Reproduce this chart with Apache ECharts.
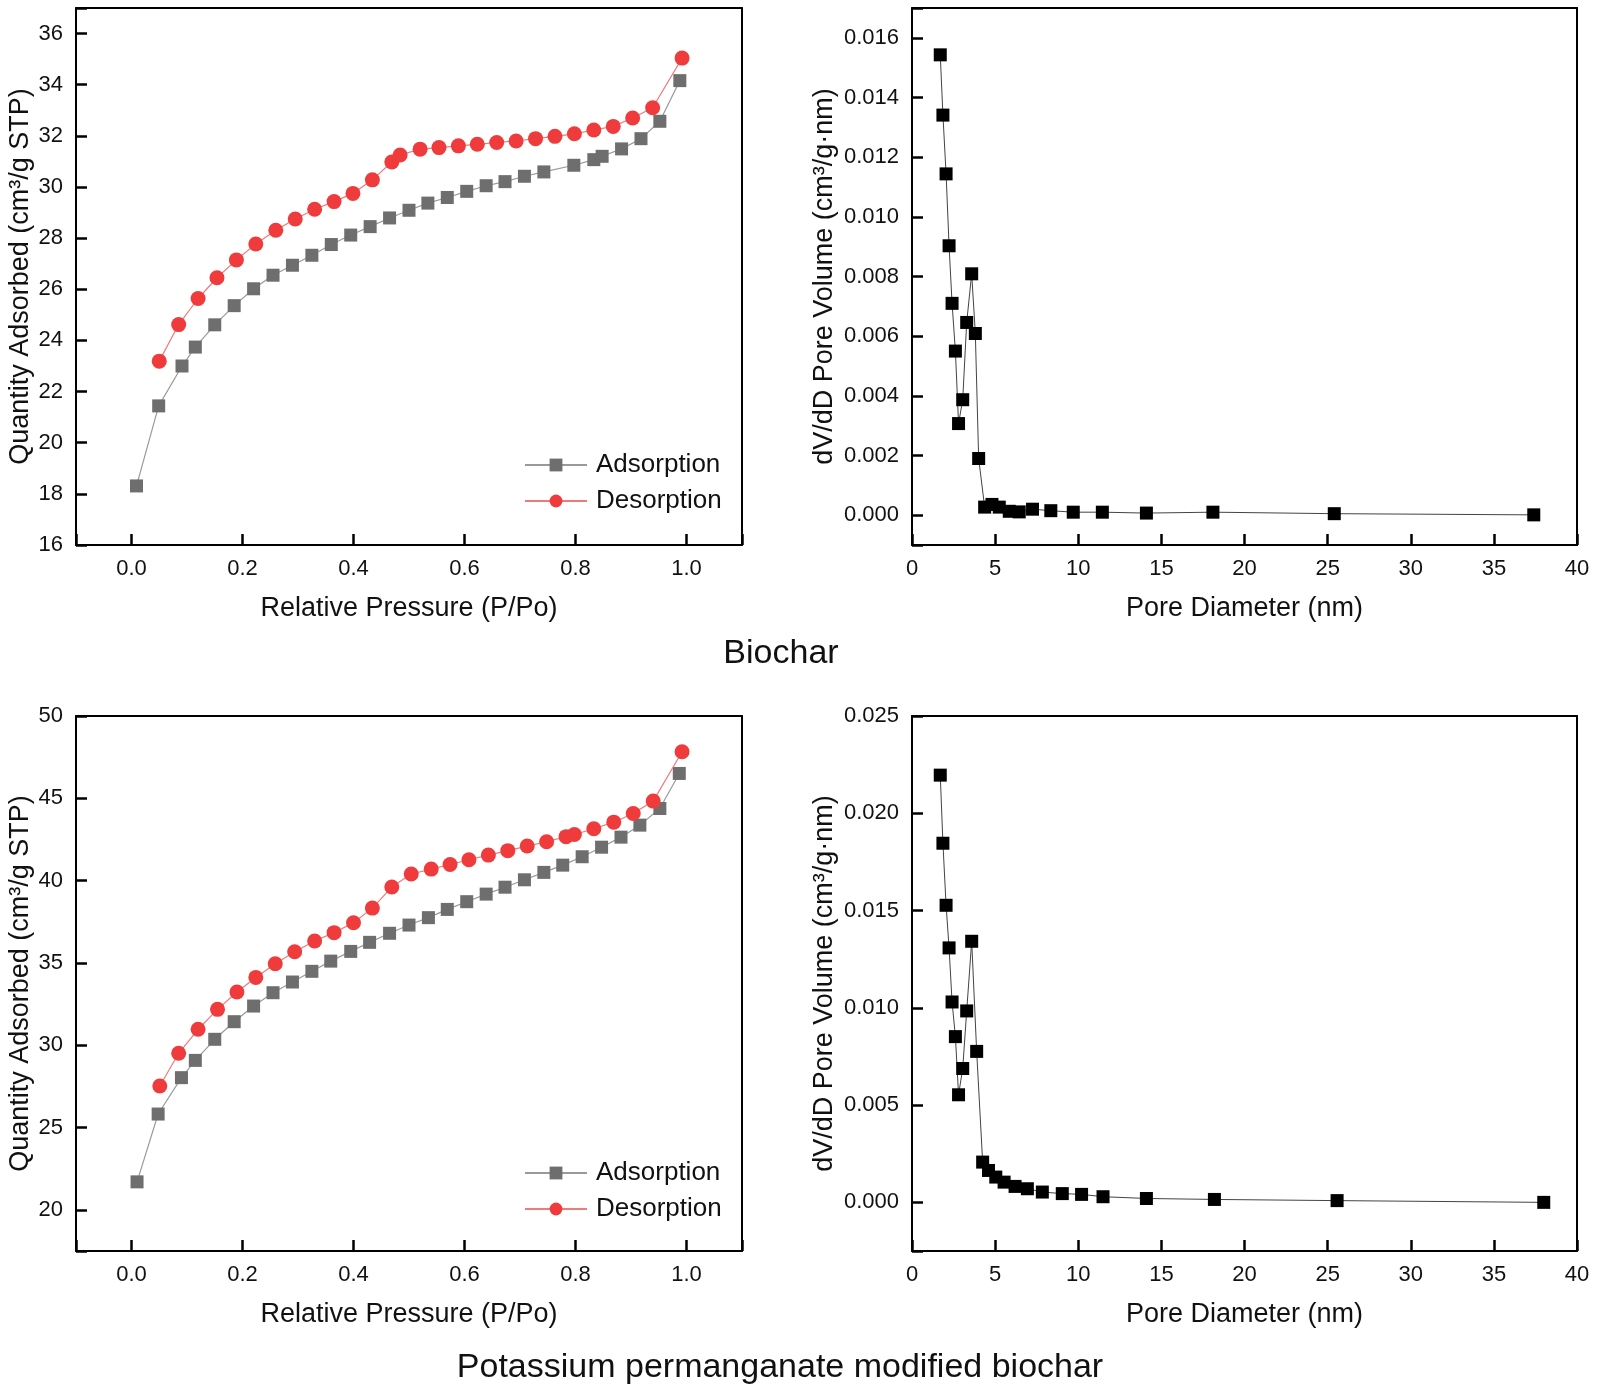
<!DOCTYPE html>
<html>
<head>
<meta charset="utf-8">
<title>Biochar BET</title>
<script src="https://cdn.jsdelivr.net/npm/echarts@6/dist/echarts.min.js"></script>
<style>
  html, body { margin: 0; padding: 0; background: #fff; }
  #charts { width: 1598px; height: 1397px; }
</style>
</head>
<body>
<div id="charts"></div>
<script>
// biochar isotherm (top left)
var bcAdsP = [0.009,0.049,0.091,0.115,0.15,0.185,0.22,0.255,0.29,0.325,0.36,0.395,0.43,0.465,0.5,0.534,0.569,0.604,0.639,0.673,0.708,0.743,0.797,0.833,0.848,0.883,0.918,0.952,0.988];
var bcAdsQ = [18.31,21.44,23.0,23.74,24.61,25.36,26.02,26.55,26.94,27.33,27.75,28.12,28.45,28.79,29.09,29.37,29.59,29.83,30.05,30.21,30.42,30.59,30.85,31.07,31.2,31.49,31.89,32.57,34.16];
var bcDesP = [0.05,0.085,0.12,0.154,0.189,0.224,0.26,0.295,0.33,0.365,0.399,0.434,0.469,0.484,0.52,0.554,0.589,0.623,0.658,0.693,0.728,0.763,0.798,0.833,0.868,0.903,0.939,0.992];
var bcDesQ = [23.19,24.62,25.64,26.45,27.15,27.77,28.31,28.75,29.13,29.43,29.75,30.28,30.98,31.25,31.48,31.54,31.61,31.67,31.74,31.8,31.89,31.98,32.08,32.23,32.37,32.7,33.1,35.04];
// biochar pore size distribution (top right)
var bcPoreD = [1.70,1.86,2.05,2.23,2.41,2.61,2.80,3.05,3.29,3.59,3.81,4.01,4.37,4.81,5.25,5.85,6.45,7.25,8.35,9.7,11.45,14.1,18.1,25.4,37.4];
var bcPoreV = [0.01543,0.01341,0.01144,0.00903,0.0071,0.0055,0.00307,0.00387,0.00646,0.00809,0.00609,0.0019,0.00027,0.00036,0.00027,0.00013,0.00011,0.0002,0.00015,0.0001,0.0001,0.00007,0.0001,0.00005,0.00001];
// modified biochar isotherm (bottom left)
var kmAdsP = [0.01,0.048,0.09,0.115,0.15,0.185,0.22,0.255,0.29,0.325,0.359,0.395,0.429,0.465,0.5,0.535,0.569,0.604,0.639,0.673,0.708,0.743,0.777,0.812,0.847,0.882,0.916,0.952,0.987];
var kmAdsQ = [21.7,25.82,28.03,29.08,30.36,31.43,32.38,33.19,33.84,34.49,35.11,35.7,36.25,36.8,37.3,37.75,38.25,38.72,39.18,39.6,40.05,40.5,40.94,41.45,42.03,42.64,43.37,44.38,46.51];
var kmDesP = [0.051,0.085,0.12,0.155,0.19,0.224,0.259,0.294,0.33,0.365,0.4,0.434,0.469,0.504,0.54,0.574,0.608,0.643,0.678,0.713,0.748,0.783,0.798,0.833,0.869,0.904,0.94,0.992];
var kmDesQ = [27.52,29.51,30.97,32.18,33.23,34.12,34.95,35.68,36.33,36.84,37.44,38.33,39.61,40.4,40.7,40.98,41.27,41.55,41.82,42.1,42.36,42.67,42.8,43.15,43.55,44.08,44.83,47.83];
// modified biochar pore size distribution (bottom right)
var kmPoreD = [1.70,1.86,2.05,2.23,2.41,2.61,2.80,3.05,3.29,3.59,3.89,4.25,4.6,5.04,5.54,6.2,6.94,7.84,9.04,10.2,11.49,14.1,18.19,25.57,38.0];
var kmPoreV = [0.02196,0.01846,0.01527,0.01308,0.0103,0.00852,0.00553,0.00688,0.00984,0.01342,0.00776,0.00207,0.00164,0.0013,0.00104,0.00082,0.0007,0.00053,0.00045,0.00041,0.00029,0.0002,0.00015,0.00009,0.0];

// tick labels
var pTicks = [0,0.2,0.4,0.6,0.8,1.0];
var bcQTicks = [16,18,20,22,24,26,28,30,32,34,36];
var kmQTicks = [20,25,30,35,40,45,50];
var bcVTicks = [0,0.002,0.004,0.006,0.008,0.010,0.012,0.014,0.016];
var kmVTicks = [0,0.005,0.010,0.015,0.020,0.025];
var dTicks = [0,5,10,15,20,25,30,35,40];

var FONT = '"Liberation Sans", Arial, sans-serif';

function zip(xs, ys) {
    return xs.map(function (v, i) { return [v, ys[i]]; });
}

// splitNumber lets echarts pick a round step, so ticks stay on round values
// even where min/max sit half a step outside them
function valAxis(idx, min, max, split, name, gap, ticks, digits, pos) {
    return {
        type: 'value',
        gridIndex: idx,
        position: pos,
        min: min,
        max: max,
        splitNumber: split,
        name: name,
        nameLocation: 'middle',
        nameGap: gap,
        nameTextStyle: { fontFamily: FONT, fontSize: 27, color: '#111' },
        axisLine: { show: true, onZero: false, lineStyle: { color: '#000', width: 2 } },
        axisTick: { show: true, inside: true, length: 11, lineStyle: { color: '#000', width: 2.5 } },
        axisLabel: {
            show: true,
            fontFamily: FONT, fontSize: 22, color: '#111', margin: 13,
            formatter: function (v) {
                let hit = ticks.some(function (t) { return Math.abs(t - v) < 1e-9; });
                return hit ? Number(v).toFixed(digits) : '';
            }
        },
        splitLine: { show: false },
        z: 5
    };
}

// plain box edges (top and right) drawn as label-free mirror axes
function edgeAxis(idx, min, max, pos) {
    return {
        type: 'value', gridIndex: idx, position: pos, min: min, max: max,
        axisLine: { show: true, onZero: false, lineStyle: { color: '#000', width: 2 } },
        axisTick: { show: false }, axisLabel: { show: false }, splitLine: { show: false }
    };
}

var grids = [
    { left: 76, top: 8, width: 666, height: 537 },
    { left: 912, top: 8, width: 665, height: 537 },
    { left: 76, top: 716, width: 666, height: 535 },
    { left: 912, top: 716, width: 665, height: 535 }
];

function adsSeries(x, y, data) {
    return {
        name: 'Adsorption', type: 'line', xAxisIndex: x, yAxisIndex: y,
        data: data, symbol: 'rect', symbolSize: 13,
        itemStyle: { color: '#6e6e6e' },
        lineStyle: { color: '#9a9a9a', width: 1.2 },
        z: 3
    };
}
function desSeries(x, y, data) {
    return {
        name: 'Desorption', type: 'line', xAxisIndex: x, yAxisIndex: y,
        data: data, symbol: 'circle', symbolSize: 15,
        itemStyle: { color: '#ef3b3b' },
        lineStyle: { color: '#f07a7a', width: 1.2 },
        z: 4
    };
}
function poreSeries(x, y, data) {
    return {
        name: 'pore' + x, type: 'line', xAxisIndex: x, yAxisIndex: y,
        data: data, symbol: 'rect', symbolSize: 13,
        itemStyle: { color: '#000' },
        lineStyle: { color: '#444', width: 1 }
    };
}

function legendAt(top) {
    return {
        data: ['Adsorption', 'Desorption'],
        orient: 'vertical',
        left: 524, top: top, padding: 0,
        itemWidth: 62, itemHeight: 16, itemGap: 10,
        selectedMode: false,
        textStyle: { fontFamily: FONT, fontSize: 26, color: '#111', padding: [0, 0, 0, 4] }
    };
}

var myChart = echarts.init(document.getElementById('charts'), null, { renderer: 'canvas' });
var option = {
    animation: false,
    backgroundColor: '#fff',
    grid: grids,
    legend: [legendAt(452), legendAt(1160)],
    xAxis: [
        valAxis(0, -0.1, 1.1, 6, 'Relative Pressure (P/Po)', 50, pTicks, 1, 'bottom'),
        valAxis(1, 0, 40, 8, 'Pore Diameter (nm)', 50, dTicks, 0, 'bottom'),
        valAxis(2, -0.1, 1.1, 6, 'Relative Pressure (P/Po)', 50, pTicks, 1, 'bottom'),
        valAxis(3, 0, 40, 8, 'Pore Diameter (nm)', 50, dTicks, 0, 'bottom'),
        edgeAxis(0, -0.1, 1.1, 'top'),
        edgeAxis(1, 0, 40, 'top'),
        edgeAxis(2, -0.1, 1.1, 'top'),
        edgeAxis(3, 0, 40, 'top')
    ],
    yAxis: [
        valAxis(0, 16, 37, 10, 'Quantity Adsorbed (cm³/g STP)', 42, bcQTicks, 0, 'left'),
        valAxis(1, -0.001, 0.017, 9, 'dV/dD Pore Volume (cm³/g·nm)', 74, bcVTicks, 3, 'left'),
        valAxis(2, 17.5, 50, 7, 'Quantity Adsorbed (cm³/g STP)', 42, kmQTicks, 0, 'left'),
        valAxis(3, -0.0025, 0.025, 5, 'dV/dD Pore Volume (cm³/g·nm)', 74, kmVTicks, 3, 'left'),
        edgeAxis(0, 16, 37, 'right'),
        edgeAxis(1, -0.001, 0.017, 'right'),
        edgeAxis(2, 17.5, 50, 'right'),
        edgeAxis(3, -0.0025, 0.025, 'right')
    ],
    graphic: [
        { type: 'text', x: 781, y: 654, style: { text: 'Biochar', fontFamily: FONT, fontSize: 34, fill: '#111', align: 'center', verticalAlign: 'middle' } },
        { type: 'text', x: 780, y: 1368, style: { text: 'Potassium permanganate modified biochar', fontFamily: FONT, fontSize: 34, fill: '#111', align: 'center', verticalAlign: 'middle' } }
    ],
    series: [
        adsSeries(0, 0, zip(bcAdsP, bcAdsQ)),
        desSeries(0, 0, zip(bcDesP, bcDesQ)),
        poreSeries(1, 1, zip(bcPoreD, bcPoreV)),
        adsSeries(2, 2, zip(kmAdsP, kmAdsQ)),
        desSeries(2, 2, zip(kmDesP, kmDesQ)),
        poreSeries(3, 3, zip(kmPoreD, kmPoreV))
    ]
};
myChart.setOption(option);
</script>
</body>
</html>
